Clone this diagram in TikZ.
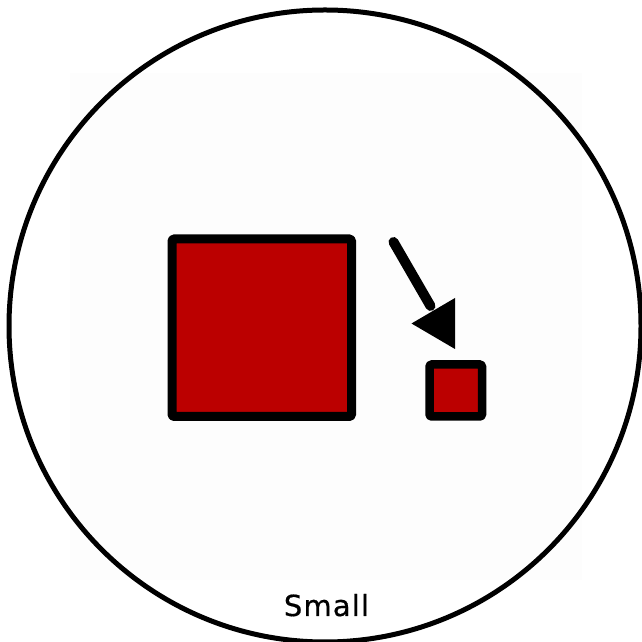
\documentclass[tikz,border=0pt]{standalone}
\usepackage{fontspec}
\usetikzlibrary{calc}
\newfontfamily\labelfont[LetterSpace=4,FakeBold=0.6]{DejaVu Sans}
\definecolor{boxred}{RGB}{187,0,0}
\definecolor{faint}{RGB}{253,253,253}
\tikzset{
  redbox/.style={draw=black, fill=boxred, line join=round, rounded corners=1.5pt},
  outline/.style={draw=black, line width=5pt},
  labeltext/.style={font=\labelfont\fontsize{29}{30}\selectfont, inner sep=0pt, anchor=base}
}
\begin{document}
\begin{tikzpicture}[x=1pt,y=1pt]
\useasboundingbox (0,0) rectangle (641,642);
\fill[white] (0,0) rectangle (641,642);
\fill[faint] (70,62) rectangle (582,569);
\draw[outline] (325,316) circle (316);
% big square
\draw[redbox, line width=9pt] (172,225.5) rectangle (351.5,403);
% small square
\draw[redbox, line width=8.5pt] (429.5,225.5) rectangle (482,277.5);
% arrow
\coordinate (start) at (393.5,400);
\coordinate (tip) at (455,293);
\coordinate (c1) at (411.5,318.5);
\coordinate (c2) at (455,344);
\coordinate (basemid) at ($(c1)!0.5!(c2)$);
\draw[line width=10pt, line cap=round] (start) -- ($(start)!0.93!(basemid)$);
\fill[black] (tip) -- (c1) -- (c2) -- cycle;
\node[labeltext] (lbl) at (326.5,26) {Small};
\end{tikzpicture}
\end{document}
